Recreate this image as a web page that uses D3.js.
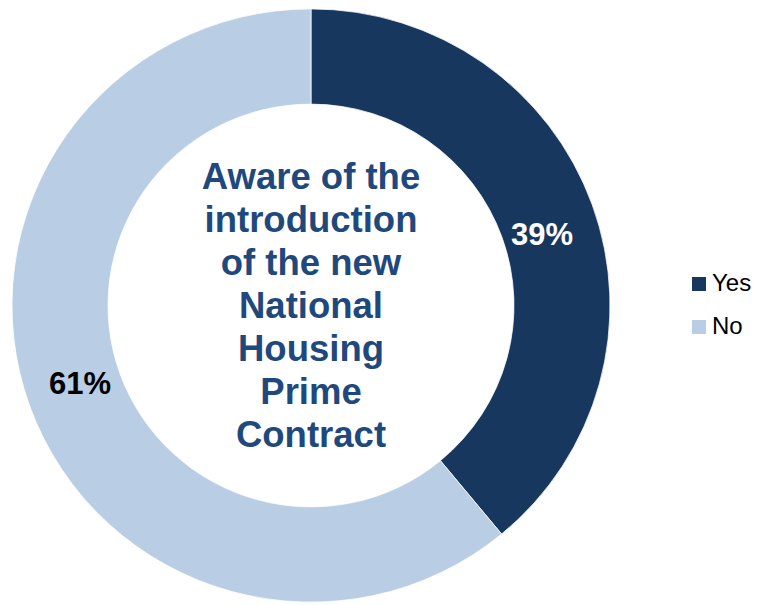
<!DOCTYPE html>
<html>
<head>
<meta charset="utf-8">
<script src="https://cdn.jsdelivr.net/npm/d3@7"></script>
<style>
  html, body { margin: 0; padding: 0; background: #fff; }
  svg { display: block; font-family: "Liberation Sans", Arial, sans-serif; }
</style>
</head>
<body>
<svg id="chart" width="759" height="605"></svg>
<script>
// Survey answers and their shares
const categories = ["Yes", "No"];
const values = [39, 61];
const colors = ["#17375E", "#B9CDE5"];
const labelColors = ["#ffffff", "#000000"];
const centerLines = ["Aware of the", "introduction", "of the new", "National", "Housing", "Prime", "Contract"];

const svg = d3.select("#chart");
const cx = 311, cy = 305.5;
const outerR = 299, innerR = 203;
const squash = 0.992; // ring is drawn very slightly flatter than round

const pie = d3.pie().sort(null).value(d => d.value);
const arc = d3.arc().innerRadius(innerR).outerRadius(outerR);
const data = categories.map((c, i) => ({ name: c, value: values[i], color: colors[i], lc: labelColors[i] }));
const arcs = pie(data);

const g = svg.append("g").attr("transform", `translate(${cx},${cy})`);

g.append("g")
  .attr("transform", `scale(1,${squash})`)
  .selectAll("path.slice")
  .data(arcs)
  .join("path")
  .attr("class", "slice")
  .attr("d", arc)
  .attr("fill", d => d.data.color)
  .attr("stroke", "#ffffff")
  .attr("stroke-width", 0.75);

// Percentage labels placed at the middle of each ring segment
const labelArc = d3.arc().innerRadius(innerR - 8).outerRadius(outerR - 8);
const labelShift = 0.03; // slight clockwise nudge of label anchor
g.selectAll("text.pct")
  .data(arcs)
  .join("text")
  .attr("class", "pct")
  .attr("transform", d => {
    const s = { startAngle: d.startAngle + labelShift, endAngle: d.endAngle + labelShift };
    const [x, y] = labelArc.centroid(s);
    return `translate(${x},${y * squash + 3})`;
  })
  .attr("text-anchor", "middle")
  .attr("dy", "0.36em")
  .attr("font-size", 31)
  .attr("font-weight", "bold")
  .attr("fill", d => d.data.lc)
  .text(d => d.data.value + "%");

// Title inside the hole
const lineH = 43;
const firstY = -(centerLines.length - 1) / 2 * lineH;
g.append("text")
  .attr("text-anchor", "middle")
  .attr("font-size", 36.5)
  .attr("font-weight", "bold")
  .attr("fill", "#1F497D")
  .selectAll("tspan")
  .data(centerLines)
  .join("tspan")
  .attr("x", 0)
  .attr("y", (d, i) => firstY + i * lineH + 12.5)
  .text(d => d);

// Legend
const legend = svg.append("g").attr("transform", "translate(692,283)");
const item = legend.selectAll("g")
  .data(data)
  .join("g")
  .attr("transform", (d, i) => `translate(0,${i * 43})`);
item.append("rect")
  .attr("x", 0).attr("y", -6)
  .attr("width", 14).attr("height", 14)
  .attr("fill", d => d.color);
item.append("text")
  .attr("x", 20)
  .attr("y", 8)
  .attr("font-size", 24)
  .attr("fill", "#000")
  .text(d => d.name);
</script>
</body>
</html>
